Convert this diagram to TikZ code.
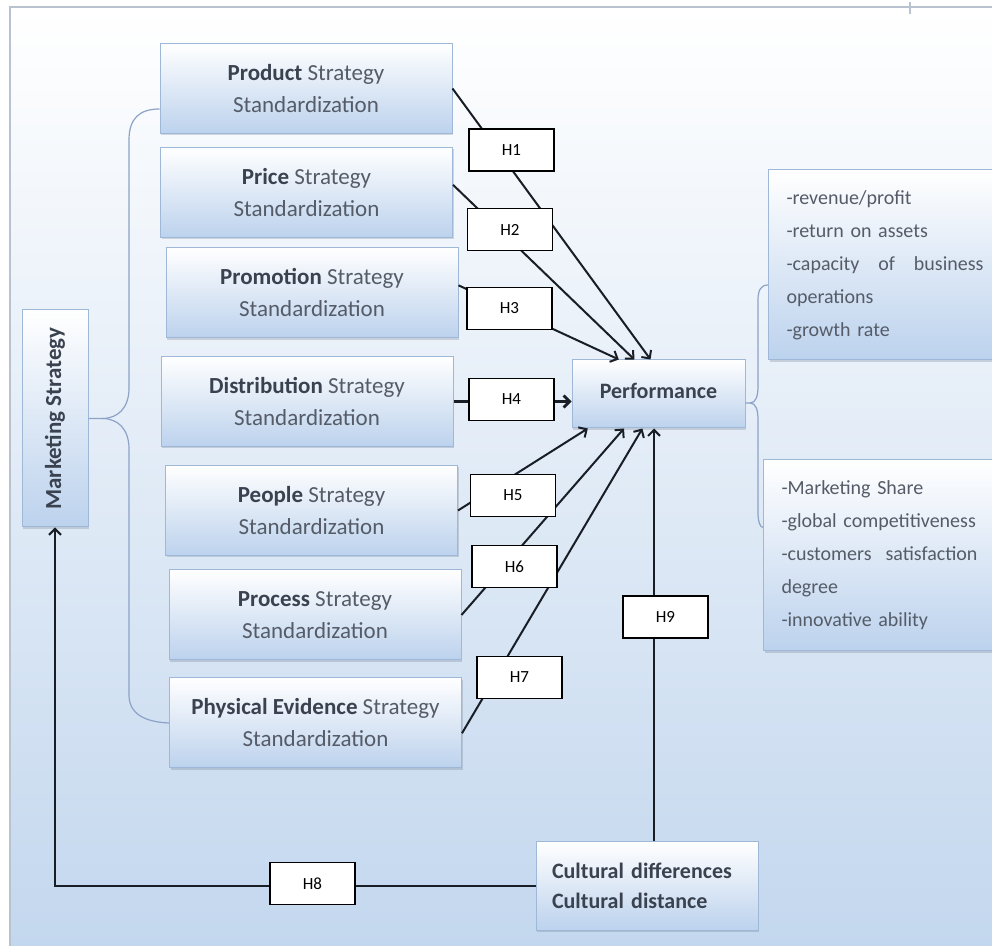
\documentclass[tikz,border=0pt]{standalone}
\usepackage{fontspec}
\setmainfont{Carlito}
\usepackage{graphicx}
\usepackage{xcolor}
\usepackage{tikz}
\usetikzlibrary{arrows.meta, calc, shadows}

\definecolor{bgblue}{RGB}{195,215,238}
\definecolor{boxblue}{RGB}{188,210,237}
\definecolor{boxedge}{RGB}{160,184,216}
\definecolor{bracecol}{RGB}{140,162,198}
\definecolor{txtgray}{RGB}{85,92,104}
\definecolor{txtdark}{RGB}{58,66,80}
\definecolor{framecol}{RGB}{185,195,208}
\definecolor{linecol}{RGB}{25,30,38}

\newcommand{\bword}[1]{\textcolor{txtdark}{\textbf{#1}}}

\begin{document}
\begin{tikzpicture}[x=0.5pt, y=-0.5pt,
        shadebox/.style={draw=boxedge, line width=0.5pt, top color=white, bottom color=boxblue,
            drop shadow={shadow xshift=0.5pt, shadow yshift=-1pt, opacity=0.25, fill=boxedge!60!black},
            inner sep=0pt, text=txtgray},
        stratbox/.style={shadebox, minimum width=146pt, minimum height=45pt, align=center,
            font=\fontsize{11.5}{16}\selectfont},
        listbox/.style={shadebox, inner xsep=9pt, inner ysep=0pt, minimum height=95pt, align=left,
            font=\fontsize{10}{16.5}\selectfont},
        hypbox/.style={draw=black, fill=white, line width=0.8pt, minimum width=42.5pt,
            minimum height=21pt, inner sep=0pt, font=\fontsize{8.5}{9}\selectfont},
        conn/.style={draw=linecol, line width=1pt, -{Straight Barb[length=3pt, width=6pt]}},
        bracepath/.style={draw=bracecol, line width=0.6pt}]
        % Background
        \useasboundingbox (0, 0) rectangle (992, 946);
        \clip (0, 0) rectangle (992, 946);
        \shade [top color=white, bottom color=bgblue] (10, 7) rectangle (992, 946);
        \draw [framecol, line width=0.6pt] (10, 946) -- (10, 7) -- (992, 7);
        \draw [framecol, line width=0.6pt] (910, 2) -- (910, 14);
        % Strategy boxes
        \node [stratbox] (prod) at (306, 88.5) {\bword{Product} Strategy\\Standardization};
        \node [stratbox] (price) at (306.5, 192.5) {\bword{Price} Strategy\\Standardization};
        \node [stratbox] (promo) at (312, 293) {\bword{Promotion} Strategy\\Standardization};
        \node [stratbox] (dist) at (307, 401.5) {\bword{Distribution} Strategy\\Standardization};
        \node [stratbox] (people) at (311.5, 510.5) {\bword{People} Strategy\\Standardization};
        \node [stratbox] (proc) at (315, 615) {\bword{Process} Strategy\\Standardization};
        \node [stratbox] (phys) at (315.5, 723) {\bword{Physical Evidence} Strategy\\Standardization};
        \node [shadebox, minimum width=33pt, minimum height=108.5pt, font=\fontsize{11.5}{13}\selectfont]
            (mkt) at (55, 418.5) {\rotatebox{90}{\bword{Marketing Strategy}}};
        \node [shadebox, minimum width=86.5pt, minimum height=34pt, font=\fontsize{11}{13}\selectfont]
            (perf) at (658.5, 394) {\raisebox{3pt}{\bword{Performance}}};
        \node [listbox, anchor=west, text width=98.5pt] (kpi) at (768, 265)
            {-revenue/profit\\-return on assets\\-capacity\hfill of\hfill business\\operations\\-growth rate};
        \node [listbox, anchor=west, text width=98pt, minimum height=95.5pt] (share) at (763, 555.5)
            {-Marketing Share\\-global competitiveness\\-customers\hfill satisfaction\\degree\\-innovative ability};
        \node [shadebox, minimum width=111pt, minimum height=44pt, text width=95pt, align=left,
            font=\fontsize{11}{15}\selectfont] (cult) at (647, 886)
            {\bword{Cultural differences}\\\bword{Cultural distance}};
        % Braces
        \draw [bracepath] (mkt.east) -- (102, 418.5) .. controls (118, 418.5) and (129, 408) .. (129, 388)
            -- (129, 140) .. controls (129, 118) and (140, 109) .. ($(prod.south west)+(0, -25)$);
        \draw [bracepath] (102, 418.5) .. controls (118, 418.5) and (129, 429) .. (129, 449)
            -- (129, 695) .. controls (129, 714) and (145, 722) .. (phys.west);
        \draw [bracepath] ($(perf.east)+(0, 9)$) -- (750, 403) .. controls (756, 403) and (758, 396) .. (758, 386)
            -- (758, 300) .. controls (758, 290) and (761, 285) .. ($(kpi.west)+(0, 20)$);
        \draw [bracepath] (750, 403) .. controls (756, 403) and (758, 410) .. (758, 420)
            -- (758, 512) .. controls (758, 522) and (760, 527) .. ($(share.west)+(0, -28)$);
        % Arrows
        \draw [conn] (prod.east) -- (perf.103);
        \draw [conn] (price.3) -- (perf.125);
        \draw [conn] (promo.3) -- (perf.139);
        \draw [conn, line width=1.4pt] (dist.east) -- (dist.east -| perf.west);
        \draw [conn] (people.east) -- (perf.206);
        \draw [conn] (proc.east) -- (perf.225);
        \draw [conn] (phys.-4) -- (perf.245);
        \coordinate (hnine) at (654, 0);
        \draw [conn] (cult.north -| hnine) -- (perf.south -| hnine);
        \draw [conn] (cult.west) -| (mkt.south);
        % Hypotheses
        \node [hypbox] (h1) at (511.5, 150) {H1};
        \node [hypbox] (h2) at (510, 229.5) {H2};
        \node [hypbox] (h3) at (509.5, 308.5) {H3};
        \node [hypbox] (h4) at (511.5, 399.5) {H4};
        \node [hypbox] (h5) at (513, 495.5) {H5};
        \node [hypbox] (h6) at (514.5, 566.5) {H6};
        \node [hypbox] (h7) at (519.5, 677.5) {H7};
        \node [hypbox] (h8) at (312.5, 883.5) {H8};
        \node [hypbox] (h9) at (665.5, 617) {H9};
    \end{tikzpicture}
\end{document}
